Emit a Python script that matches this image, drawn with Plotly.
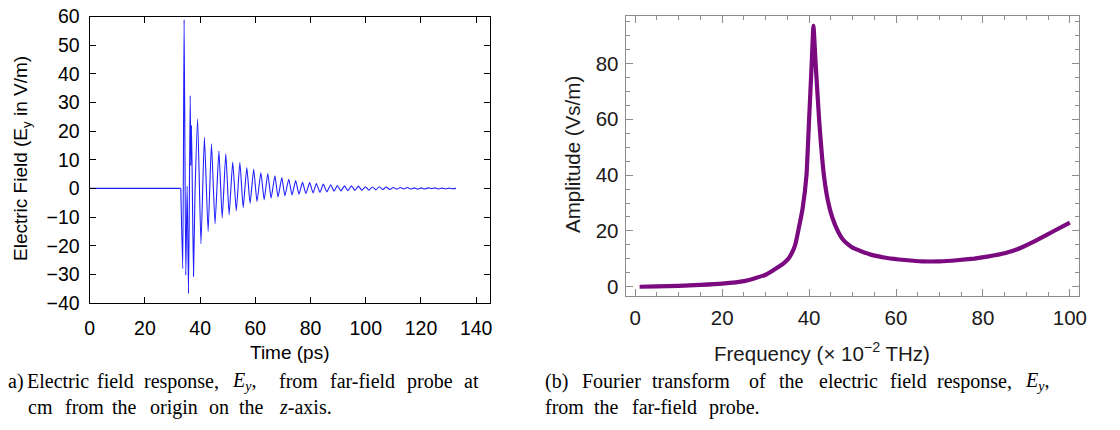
import plotly.graph_objects as go

# ---- Panel (a): time-domain electric field (vertices) ----
time_ps = [0, 33.0, 33.7, 34.2, 34.8, 35.3, 35.8, 36.4, 36.64, 36.88, 37.6, 38.1, 39.1,
           40.3, 41.55, 42.9, 44.1, 45.4, 46.8, 48.0, 49.3, 50.5, 51.8, 53.1, 54.4, 55.6,
           56.9, 58.1, 59.4, 60.6, 62.0, 63.2, 64.5, 65.7, 67.1, 68.2, 69.6, 70.7, 72.1,
           73.3, 74.6, 75.8, 77.1, 78.3, 79.7, 80.9, 82.1, 83.4, 84.6, 85.9, 87.3, 88.5,
           89.7, 91.0, 92.3, 93.5, 94.8, 96.1, 97.3, 98.6, 99.9, 101.1, 102.4, 103.7,
           104.9, 106.2, 107.4, 108.7, 110.0, 111.2, 112.5, 113.8, 115.0, 116.3, 117.5,
           118.8, 120.1, 121.3, 122.6, 123.9, 125.1, 126.4, 127.6, 128.9, 130.2, 131.4, 132.7]
efield = [0, 0, -28, 58.9, -30.3, 0.8, -36.7, 32.4, 8, 22, -30.7, -3.5, 24.2,
          -19.3, 17.8, -15, 15.6, -12.3, 13, -10.3, 12.2, -9.2, 9.2, -7.8, 9.0, -6.7,
          7.3, -5.2, 6.7, -4.6, 5.5, -4.0, 5.2, -3.4, 4.4, -3.0, 3.8, -2.6, 3.2,
          -2.3, 2.7, -2.0, 2.1, -1.8, 2.0, -1.6, 1.7, -1.4, 1.5, -1.2, 1.3, -1.0,
          1.0, -0.9, 0.9, -0.8, 0.9, -0.7, 0.8, -0.6, 0.6, -0.6, 0.5, -0.5,
          0.6, -0.4, 0.5, -0.4, 0.3, -0.3, 0.3, -0.2, 0.3, -0.2, 0.2,
          -0.3, 0.2, -0.2, 0.2, -0.1, 0.2, -0.2, 0.1, -0.2, 0.1, -0.1, 0.0]

# ---- Panel (b): Fourier amplitude ----
freq = [1, 5, 10, 15, 20, 25, 30, 33, 34.2, 35.2, 36.0, 36.8, 37.5, 38.5, 39.4, 40.0,
        40.6, 41.0, 41.5, 42.3, 43.4, 44.3, 45.3, 46.6, 48, 50, 54, 58, 62, 66, 70, 74,
        78, 81, 85, 88.5, 92.4, 96, 100]
amp = [0, 0.15, 0.35, 0.65, 1.1, 2.0, 4.3, 7.2, 8.5, 10, 12, 15, 20, 28, 40, 60,
       80, 93.5, 80, 60, 40, 31, 25, 20, 16.5, 14, 11.6, 10.3, 9.6, 9.1, 9.1, 9.5,
       10.1, 10.8, 12, 13.8, 16.7, 19.7, 23]

left_xticks = [0, 20, 40, 60, 80, 100, 120, 140]
left_yticks = [-40, -30, -20, -10, 0, 10, 20, 30, 40, 50, 60]
right_xticks = [0, 20, 40, 60, 80, 100]
right_yticks = [0, 20, 40, 60, 80]

# The page body has an 8 px margin; the figure is sized to fit inside the window.
OFF = 8
W, H = 1120 - 2 * OFF, 430 - 2 * OFF
SANS = "Liberation Sans, Arial, sans-serif"
SERIF = "Liberation Serif, DejaVu Serif, serif"

n_flat = 2  # the signal is zero until the pulse arrives
fig = go.Figure()
fig.add_trace(go.Scatter(x=time_ps[:n_flat], y=efield[:n_flat], mode="lines",
                         xaxis="x", yaxis="y",
                         line=dict(color="#1f1fff", width=1.1),
                         showlegend=False, hoverinfo="skip"))
fig.add_trace(go.Scatter(x=time_ps[n_flat - 1:], y=efield[n_flat - 1:], mode="lines",
                         xaxis="x", yaxis="y",
                         line=dict(color="#1f1fff", width=1.1, shape="spline",
                                   smoothing=0.5),
                         showlegend=False, hoverinfo="skip"))
fig.add_trace(go.Scatter(x=freq, y=amp, mode="lines", xaxis="x2", yaxis="y2",
                         line=dict(color="#7b0a80", width=4.2, shape="spline",
                                   smoothing=0.4),
                         showlegend=False, hoverinfo="skip"))

def px2x(p):
    return (p - OFF) / W

def px2y(p):
    return 1 - (p - OFF) / H

black_ax = dict(showgrid=False, zeroline=False, showline=True, linecolor="black",
                linewidth=1.2, mirror="ticks", ticks="inside", ticklen=6,
                tickcolor="black", tickwidth=1.2, automargin=False,
                ticklabeloverflow="allow",
                tickfont=dict(family=SANS, size=19.5, color="black"))
gray_ax = dict(showgrid=False, zeroline=False, showline=True, linecolor="#8c8c8c",
               linewidth=1.2, mirror="ticks", ticks="inside", ticklen=7,
               tickcolor="#8c8c8c", tickwidth=1, automargin=False,
               ticklabeloverflow="allow",
               tickfont=dict(family=SANS, size=20.5, color="#1a1a1a"))

fig.update_layout(
    template="none",
    width=W, height=H, margin=dict(l=0, r=0, t=0, b=0, pad=0),
    paper_bgcolor="white", plot_bgcolor="white",
    xaxis=dict(black_ax, domain=[px2x(89.7), px2x(490)], range=[0, 145],
               tickvals=left_xticks, ticklabelstandoff=7, anchor="y"),
    yaxis=dict(black_ax, domain=[px2y(303), px2y(16.5)], range=[-40, 60],
               tickvals=left_yticks, ticklabelstandoff=5, anchor="x"),
    xaxis2=dict(gray_ax, domain=[px2x(625.7), px2x(1079)], range=[-2.2, 102.1],
                tickvals=right_xticks, ticklabelstandoff=4, anchor="y2",
                minor=dict(dtick=5, tick0=0, ticks="inside", ticklen=4,
                           tickcolor="#8c8c8c")),
    yaxis2=dict(gray_ax, domain=[px2y(295.7), px2y(15.7)], range=[-3.2, 97.1],
                tickvals=right_yticks, ticklabelstandoff=2, anchor="x2",
                minor=dict(dtick=5, tick0=0, ticks="inside", ticklen=4,
                           tickcolor="#8c8c8c")),
)

ann = []
# axis titles
ann.append(dict(text="Electric Field (E<sub>y</sub> in V/m)", x=px2x(22), y=px2y(159),
                textangle=-90, font=dict(family=SANS, size=19, color="black")))
ann.append(dict(text="Time (ps)", x=px2x(290), y=px2y(352),
                font=dict(family=SANS, size=19, color="black")))
ann.append(dict(text="Amplitude (Vs/m)", x=px2x(572), y=px2y(155),
                textangle=-90, font=dict(family=SANS, size=20.5, color="#1a1a1a")))
ann.append(dict(text="Frequency (\u00d7 10<sup>\u22122</sup> THz)", x=px2x(822), y=px2y(352),
                font=dict(family=SANS, size=20.5, color="#1a1a1a")))

# captions (justified lines: each word placed where it sits in the original)
cap_font = dict(family=SERIF, size=20, color="black")
caption_lines = [
    (381, [("a)", 5.5), ("Electric", 24.5), ("field", 95), ("response,", 141.7),
           ("<i>E<sub>y</sub></i>,", 230), ("from", 276.7), ("far-field", 328.3),
           ("probe", 405), ("at", 461.7)]),
    (407, [("cm", 26), ("from", 63.3), ("the", 110), ("origin", 148.3), ("on", 206.7),
           ("the", 236.7), ("<i>z</i>-axis.", 276.7)]),
    (381, [("(b)", 543), ("Fourier", 580), ("transform", 650), ("of", 746.7),
           ("the", 776.7), ("electric", 816.7), ("field", 888.3), ("response,", 935),
           ("<i>E<sub>y</sub></i>,", 1023.3)]),
    (407, [("from", 543.3), ("the", 591.7), ("far-field", 630), ("probe.", 706.7)]),
]
for ypx, words in caption_lines:
    for w, xp in words:
        ann.append(dict(text=w, x=px2x(xp), y=px2y(ypx), xanchor="left", font=cap_font))

for a in ann:
    a.update(xref="paper", yref="paper", showarrow=False)
    a.setdefault("xanchor", "center")
    a.setdefault("yanchor", "middle")
fig.update_layout(annotations=ann)

fig.write_html("out.html")
